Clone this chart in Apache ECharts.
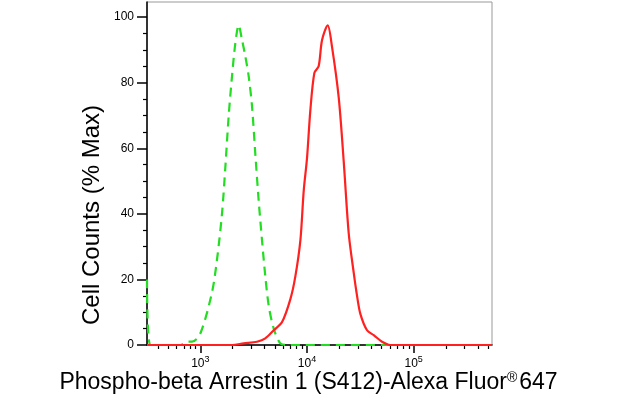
<!DOCTYPE html>
<html><head><meta charset="utf-8">
<script src="https://cdn.jsdelivr.net/npm/echarts@6/dist/echarts.min.js"></script>
<style>html,body{margin:0;background:#fff}#main{width:617px;height:413px}</style>
</head><body><div id="main"></div>
<script>
// x values are log10 of fluorescence intensity
var controlX = [2.5, 2.531, 2.8125, 2.875, 2.922, 3.0, 3.109, 3.156, 3.203, 3.234, 3.266, 3.297, 3.328, 3.359, 3.391, 3.422, 3.453, 3.484, 3.516, 3.547, 3.578, 3.609, 3.641, 3.688, 3.75, 3.8125, 5.734];
var controlY = [20, 0, 0, 1, 1, 3.5, 16, 26, 40, 54, 70, 82, 92, 97.5, 93, 88, 82, 73, 58, 44, 32, 21, 12, 5, 0.5, 0, 0];
var sampleX = [2.5, 3.297, 3.406, 3.531, 3.609, 3.688, 3.766, 3.844, 3.891, 3.938, 3.969, 4.0, 4.031, 4.069, 4.109, 4.141, 4.194, 4.234, 4.297, 4.344, 4.391, 4.438, 4.469, 4.5, 4.5625, 4.625, 4.703, 4.781, 5.734];
var sampleY = [0, 0, 0.5, 1, 2, 4.5, 7, 14, 21, 32, 47, 57, 71.5, 83, 85, 93, 97.5, 91, 75.5, 56, 34, 22, 15, 9.5, 4.5, 3, 1, 0, 0];
var xDecades = [3, 4, 5];
var yLabels = [0, 20, 40, 60, 80, 100];
var yMinor = [5, 10, 15, 25, 30, 35, 45, 50, 55, 65, 70, 75, 85, 90, 95];

var xMinor = [];
[2, 3, 4, 5].forEach(function (d) {
    for (var k = 2; k <= 9; k++) {
        var v = d + Math.log10(k);
        if (v >= 2.5 && v <= 5.734) xMinor.push(v);
    }
});
function zip(xs, ys) { return xs.map(function (x, i) { return [x, ys[i]]; }); }

var myChart = echarts.init(document.getElementById('main'));
var grid = { left: 147, right: 125, top: 2, bottom: 68, show: true, borderColor: '#999', borderWidth: 1 };
var xBase = { type: 'value', min: 2.5, max: 5.734, splitLine: { show: false }, position: 'bottom' };
option = {
    animation: false,
    grid: grid,
    xAxis: [
        Object.assign({}, xBase, {
            axisLine: { lineStyle: { color: '#000', width: 1.5 } },
            axisTick: { customValues: xDecades, length: 8, lineStyle: { color: '#000', width: 1.5 } },
            axisLabel: {
                customValues: xDecades, margin: 10, color: '#000',
                formatter: function (v) { return '{b|10}{s|' + v + '}'; },
                rich: { b: { fontSize: 12, fontFamily: 'Arial' }, s: { fontSize: 9, verticalAlign: 'top', padding: [0, 0, 8, 0] } }
            }
        }),
        Object.assign({}, xBase, {
            axisLine: { show: false },
            axisTick: { customValues: xMinor, length: 4, lineStyle: { color: '#000', width: 1.2 } },
            axisLabel: { show: false }
        })
    ],
    yAxis: [
        {
            type: 'value', min: 0, max: 104.6, splitLine: { show: false },
            axisLine: { show: true, lineStyle: { color: '#000', width: 1.5 } },
            axisTick: { customValues: yLabels, length: 10, lineStyle: { color: '#000', width: 1.5 } },
            axisLabel: { customValues: yLabels, color: '#000', fontSize: 12, fontFamily: 'Arial', margin: 13 }
        },
        {
            type: 'value', min: 0, max: 104.6, splitLine: { show: false }, position: 'left',
            axisLine: { show: false },
            axisTick: { customValues: yMinor, length: 4, lineStyle: { color: '#000', width: 1.2 } },
            axisLabel: { show: false }
        }
    ],
    series: [
        {
            type: 'line', data: zip(controlX, controlY), showSymbol: false, smooth: 0.3,
            lineStyle: { color: '#22dd22', width: 2.2, type: [9, 6] }
        },
        {
            type: 'line', data: zip(sampleX, sampleY), showSymbol: false, smooth: 0.3,
            lineStyle: { color: '#ff2020', width: 2.2 }
        }
    ],
    graphic: [
        {
            type: 'text', left: 'center', top: 371,
            style: {
                text: 'Phospho-beta Arrestin 1 (S412)-Alexa Fluor{s|®}647',
                font: '23px Arial', fill: '#000',
                rich: { s: { fontSize: 14, verticalAlign: 'top', padding: [0, 2, 10, 0] } }
            }
        },
        {
            type: 'text', x: 92, y: 215, rotation: Math.PI / 2,
            style: { text: 'Cell Counts (% Max)', font: '24px Arial', fill: '#000', align: 'center', verticalAlign: 'middle' }
        }
    ]
};
myChart.setOption(option);
</script></body></html>
